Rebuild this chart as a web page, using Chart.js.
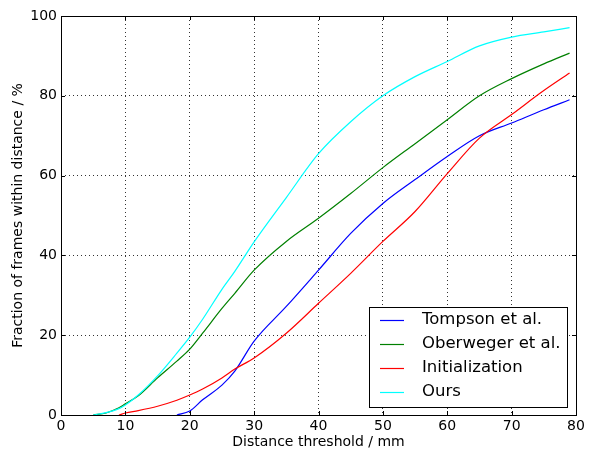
<!DOCTYPE html>
<html>
<head>
<meta charset="utf-8">
<script src="https://cdn.jsdelivr.net/npm/chart.js@4/dist/chart.umd.min.js"></script>
<style>
  html, body { margin: 0; padding: 0; background: #fff; }
  canvas { display: block; }
</style>
</head>
<body>
<canvas id="pckChart" width="595" height="452"></canvas>
<script>
// ============================
// Data
// ============================
const thresholds = [5, 7, 9, 10, 12, 15, 18, 20, 22, 25, 27, 30, 35, 40, 45, 50, 55, 60, 65, 70, 75, 79];
const tompson =    [null, null, null, null, null, null, 0, 1, 3.8, 7.5, 11, 18.5, 27.2, 36.3, 45.5, 53, 59, 64.8, 70, 73.2, 76.5, 79];
const oberweger =  [0, 0.5, 1.8, 2.8, 4.8, 9.3, 13.5, 16.5, 20.5, 26.7, 30.5, 36.3, 43.5, 49.3, 55.5, 62, 68, 74, 80, 84.3, 88, 90.7];
const initialization = [null, null, 0, 0.5, 1.1, 2.2, 3.7, 5, 6.5, 9.3, 11.5, 14.3, 20.5, 28, 35.5, 43.5, 51, 60.5, 69.4, 75.3, 81.3, 85.7];
const ours =       [0, 0.6, 1.6, 2.5, 5, 9.8, 15.5, 19.5, 24, 31.5, 36, 43.4, 54.5, 65.5, 73.5, 80, 84.8, 88.6, 92.5, 94.7, 96, 97.1];

const seriesLabels = ["Tompson et al.", "Oberweger et al.", "Initialization", "Ours"];
const seriesColors = ["#0000ff", "#008000", "#ff0000", "#00ffff"];
const seriesValues = [tompson, oberweger, initialization, ours];

const xTicks = [0, 10, 20, 30, 40, 50, 60, 70, 80];
const yTicks = [0, 20, 40, 60, 80, 100];

Chart.defaults.font.family = "'DejaVu Sans', sans-serif";
Chart.defaults.font.size = 14;
Chart.defaults.color = "#000";

// ============================
// Plot frame + inward tick marks (matplotlib look)
// ============================
const framePlugin = {
    id: "frame",
    afterDatasetsDraw(chart) {
        const { ctx, chartArea: a, scales } = chart;
        ctx.save();
        ctx.strokeStyle = "#000";
        ctx.lineWidth = 1;
        ctx.beginPath();
        xTicks.forEach(v => {
            const px = Math.round(scales.x.getPixelForValue(v)) + 0.5;
            ctx.moveTo(px, a.bottom); ctx.lineTo(px, a.bottom - 4);
            ctx.moveTo(px, a.top); ctx.lineTo(px, a.top + 4);
        });
        yTicks.forEach(v => {
            const py = Math.round(scales.y.getPixelForValue(v)) + 0.5;
            ctx.moveTo(a.left, py); ctx.lineTo(a.left + 4, py);
            ctx.moveTo(a.right, py); ctx.lineTo(a.right - 4, py);
        });
        ctx.stroke();
        ctx.strokeRect(Math.round(a.left) + 0.5, Math.round(a.top) + 0.5,
            Math.round(a.right - a.left), Math.round(a.bottom - a.top));
        ctx.restore();
    }
};

// ============================
// Boxed legend in the lower right corner
// ============================
const boxLegend = {
    id: "boxLegend",
    afterDraw(chart) {
        const { ctx, chartArea: a } = chart;
        const w = 198, h = 100;
        const x0 = Math.round(a.right - 9 - w);
        const y0 = Math.round(a.bottom - 8 - h);
        ctx.save();
        ctx.fillStyle = "#fff";
        ctx.fillRect(x0, y0, w, h);
        ctx.strokeStyle = "#000";
        ctx.lineWidth = 1;
        ctx.strokeRect(x0 + 0.5, y0 + 0.5, w, h);
        ctx.font = "16.5px 'DejaVu Sans'";
        ctx.textBaseline = "middle";
        chart.data.datasets.forEach((ds, i) => {
            const cy = y0 + 13 + i * 24;
            ctx.strokeStyle = ds.borderColor;
            ctx.lineWidth = 1.2;
            ctx.beginPath();
            ctx.moveTo(x0 + 11, cy + 0.5);
            ctx.lineTo(x0 + 35, cy + 0.5);
            ctx.stroke();
            ctx.fillStyle = "#000";
            ctx.fillText(ds.label, x0 + 53, cy);
        });
        ctx.restore();
    }
};

// ============================
// Chart
// ============================
const datasets = seriesLabels.map((label, i) => ({
    label: label,
    data: thresholds.map((t, j) => ({ x: t, y: seriesValues[i][j] })),
    borderColor: seriesColors[i],
    backgroundColor: seriesColors[i],
    borderWidth: 1.2,
    pointRadius: 0,
    cubicInterpolationMode: "monotone",
    fill: false,
    order: seriesLabels.length - i
}));

const gridStyle = {
    color: "rgba(0,0,0,0.8)",
    lineWidth: 1,
    drawTicks: false
};

new Chart(document.getElementById("pckChart").getContext("2d"), {
    type: "line",
    data: { datasets: datasets },
    options: {
        responsive: false,
        animation: false,
        layout: { padding: { left: 0, right: 19, top: 16, bottom: 0 } },
        plugins: {
            legend: { display: false },
            tooltip: { enabled: false }
        },
        scales: {
            x: {
                type: "linear",
                min: 0,
                max: 80,
                grid: gridStyle,
                border: { display: false, dash: [1, 3] },
                ticks: { stepSize: 10, padding: 3, maxRotation: 0 },
                title: { display: true, text: "Distance threshold / mm", padding: { top: 0, bottom: 1 } },
                afterFit: s => { s.height = 37; }
            },
            y: {
                min: 0,
                max: 100,
                grid: gridStyle,
                border: { display: false, dash: [1, 3] },
                ticks: { stepSize: 20, padding: 4 },
                title: { display: true, text: "Fraction of frames within distance / %", padding: { top: 10, bottom: 0 } },
                afterFit: s => { s.width = 61; }
            }
        }
    },
    plugins: [framePlugin, boxLegend]
});
</script>
</body>
</html>
